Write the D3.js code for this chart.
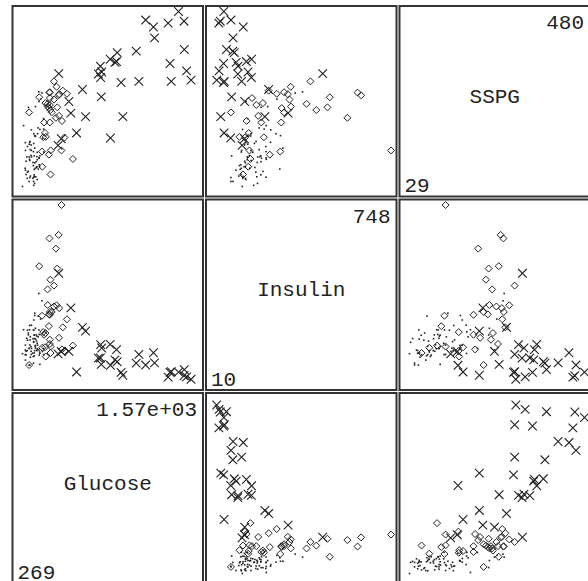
<!DOCTYPE html>
<html>
<head>
<meta charset="utf-8">
<script src="https://cdn.jsdelivr.net/npm/d3@7/dist/d3.min.js"></script>
<style>
    body { margin: 0; background: #fff; }
    svg { display: block; }
    .cell-text { font-family: "Liberation Mono", "DejaVu Sans Mono", monospace; fill: #222; font-size: 21px; }
</style>
</head>
<body>
<div id="splom"></div>
<script>
// variables, in diagonal order (bottom-left to top-right)
const variables = ["Glucose", "Insulin", "SSPG"];
const rangeLabels = [["269", "1.57e+03"], ["10", "748"], ["29", "480"]];
const groups = ["Normal", "Chemical", "Overt"];

// one entry per patient
const glucose = [
    356, 289, 319, 356, 323, 381, 350, 301, 379, 296, 353, 306, 290, 371, 312, 393, 364, 359, 296, 345,
    378, 304, 347, 327, 386, 365, 365, 352, 325, 321, 360, 336, 352, 353, 373, 376, 367, 335, 396, 277,
    378, 360, 291, 269, 318, 328, 334, 356, 291, 360, 313, 306, 319, 349, 332, 323, 323, 351, 478, 398,
    426, 439, 429, 333, 472, 436, 418, 391, 390, 416, 413, 385, 393, 376, 403, 414, 426, 364, 391, 356,
    398, 393, 425, 318, 465, 558, 503, 540, 469, 486, 568, 527, 537, 466, 599, 477, 472, 456, 517, 503,
    522, 476, 472, 455, 442, 541, 580, 472, 562, 423, 643, 533,
    1468, 1487, 714, 1470, 1113, 972, 854, 1364, 832, 967, 920, 613, 857, 1373, 1133, 849, 1183, 847, 538, 1001,
    1520, 557, 670, 628, 1427, 1241, 1350, 1249, 737, 1014, 922, 955, 1568
];
const insulin = [
    124, 117, 143, 199, 240, 157, 221, 186, 142, 131, 221, 178, 136, 200, 208, 202, 152, 185, 116, 123,
    136, 134, 184, 192, 279, 228, 145, 172, 179, 222, 134, 143, 169, 263, 174, 134, 182, 241, 128, 222,
    165, 282, 94, 121, 73, 106, 118, 112, 157, 292, 200, 220, 144, 109, 151, 158, 73, 81, 151, 122,
    117, 208, 201, 131, 162, 148, 130, 137, 375, 146, 344, 192, 115, 195, 267, 281, 213, 156, 221, 199,
    76, 490, 143, 73, 237, 748, 320, 188, 607, 297, 232, 480, 622, 287, 266, 124, 297, 326, 564, 408,
    325, 433, 180, 392, 109, 313, 132, 285, 139, 212, 155, 120,
    28, 23, 232, 54, 81, 87, 76, 42, 102, 138, 160, 131, 145, 45, 118, 159, 73, 103, 460, 42,
    13, 130, 44, 314, 43, 125, 22, 82, 216, 30, 72, 95, 10
];
const sspg = [
    55, 76, 105, 108, 143, 165, 119, 105, 98, 94, 53, 66, 142, 93, 68, 102, 76, 37, 60, 50,
    47, 50, 91, 124, 74, 235, 158, 140, 145, 99, 90, 105, 32, 165, 78, 80, 54, 175, 80, 186,
    117, 160, 71, 29, 42, 56, 122, 73, 122, 128, 233, 132, 138, 83, 109, 96, 52, 42, 122, 176,
    118, 244, 194, 136, 257, 167, 153, 248, 273, 80, 270, 180, 85, 106, 254, 119, 177, 159, 103, 59,
    108, 259, 204, 220, 111, 122, 253, 211, 271, 220, 276, 233, 264, 231, 268, 60, 272, 235, 206, 300,
    286, 226, 239, 242, 157, 267, 155, 194, 198, 156, 100, 135,
    455, 327, 279, 382, 378, 374, 260, 346, 319, 351, 357, 248, 324, 300, 300, 310, 458, 339, 320, 297,
    303, 152, 167, 218, 480, 440, 450, 412, 209, 209, 154, 349, 254
];
// N = Normal, C = Chemical, O = Overt
const group = (
    "NNNNNNNNNNNNNNNNNNNNNNNNNNNNNNNNNNNNNNNNNNNNNNNNNNNNNNNNNN" +
    "CNNCCNCCNNNCNNNNNCNNNNNCNCCCCCCCCCCCCCCCCCCCCCCCCCCCC" +
    "OOOOOOOOOOOOOOOOOOOOOOOOOOOOOOOOO"
).split("");

class SplomVis {
    constructor(_parentElement) {
        this.parentElement = _parentElement;
        this.initVis();
    }

    initVis() {
        let vis = this;

        vis.width = 588;
        vis.height = 581;
        vis.cell = 190.5;
        vis.step = 193.5;
        vis.x0 = 12.5;
        vis.y0 = 6;

        vis.svg = d3.select(`#${vis.parentElement}`)
            .append("svg")
            .attr("width", vis.width)
            .attr("height", vis.height);

        vis.wrangleData();
    }

    wrangleData() {
        let vis = this;
        const code = { N: "Normal", C: "Chemical", O: "Overt" };
        vis.displayData = glucose.map((g, i) => ({
            values: [g, insulin[i], sspg[i]],
            group: code[group[i]]
        }));
        vis.extents = variables.map((v, k) => d3.extent(vis.displayData, d => d.values[k]));
        vis.updateVis();
    }

    drawMarks(g, data, kx, ky, x, y) {
        // normal: tiny dots
        g.selectAll(".dot")
            .data(data.filter(d => d.group === "Normal"))
            .enter().append("rect")
            .attr("class", "dot")
            .attr("x", d => x(d.values[kx]) - 0.8)
            .attr("y", d => y(d.values[ky]) - 0.8)
            .attr("width", 1.6)
            .attr("height", 1.6)
            .attr("fill", "#222");

        // chemical: open diamonds
        g.selectAll(".diamond")
            .data(data.filter(d => d.group === "Chemical"))
            .enter().append("path")
            .attr("class", "diamond")
            .attr("d", "M0,-3.5L3.5,0L0,3.5L-3.5,0Z")
            .attr("transform", d => `translate(${x(d.values[kx])},${y(d.values[ky])})`)
            .attr("fill", "none")
            .attr("stroke", "#222")
            .attr("stroke-width", 1);

        // overt: crosses
        g.selectAll(".cross")
            .data(data.filter(d => d.group === "Overt"))
            .enter().append("path")
            .attr("class", "cross")
            .attr("d", "M-4.3,-4.3L4.3,4.3M-4.3,4.3L4.3,-4.3")
            .attr("transform", d => `translate(${x(d.values[kx])},${y(d.values[ky])})`)
            .attr("fill", "none")
            .attr("stroke", "#222")
            .attr("stroke-width", 1.1);
    }

    updateVis() {
        let vis = this;
        const n = variables.length;

        for (let r = 0; r < n; r++) {
            for (let c = 0; c < n; c++) {
                const left = vis.x0 + c * vis.step;
                const top = vis.y0 + r * vis.step;
                const kx = c;
                const ky = n - 1 - r;

                const g = vis.svg.append("g").attr("class", "cell");

                // frame
                g.append("rect")
                    .attr("x", left)
                    .attr("y", top)
                    .attr("width", vis.cell)
                    .attr("height", vis.cell)
                    .attr("fill", "none")
                    .attr("stroke", "#333")
                    .attr("stroke-width", 2);

                if (kx === ky) {
                    // diagonal: variable name and range
                    g.append("text")
                        .attr("class", "cell-text")
                        .attr("x", left + vis.cell / 2)
                        .attr("y", top + vis.cell / 2 + 1.5)
                        .attr("text-anchor", "middle")
                        .text(variables[kx]);

                    g.append("text")
                        .attr("class", "cell-text")
                        .attr("x", left + vis.cell - 6)
                        .attr("y", top + 23)
                        .attr("text-anchor", "end")
                        .text(rangeLabels[kx][1]);

                    g.append("text")
                        .attr("class", "cell-text")
                        .attr("x", left + 5)
                        .attr("y", top + vis.cell - 4.5)
                        .text(rangeLabels[kx][0]);
                    continue;
                }

                const x = d3.scaleLinear()
                    .domain(vis.extents[kx])
                    .range([left + 10, left + 185]);
                const y = d3.scaleLinear()
                    .domain(vis.extents[ky])
                    .range([top + 180.5, top + 5.5]);

                vis.drawMarks(g, vis.displayData, kx, ky, x, y);
            }
        }
    }
}

new SplomVis("splom");
</script>
</body>
</html>
